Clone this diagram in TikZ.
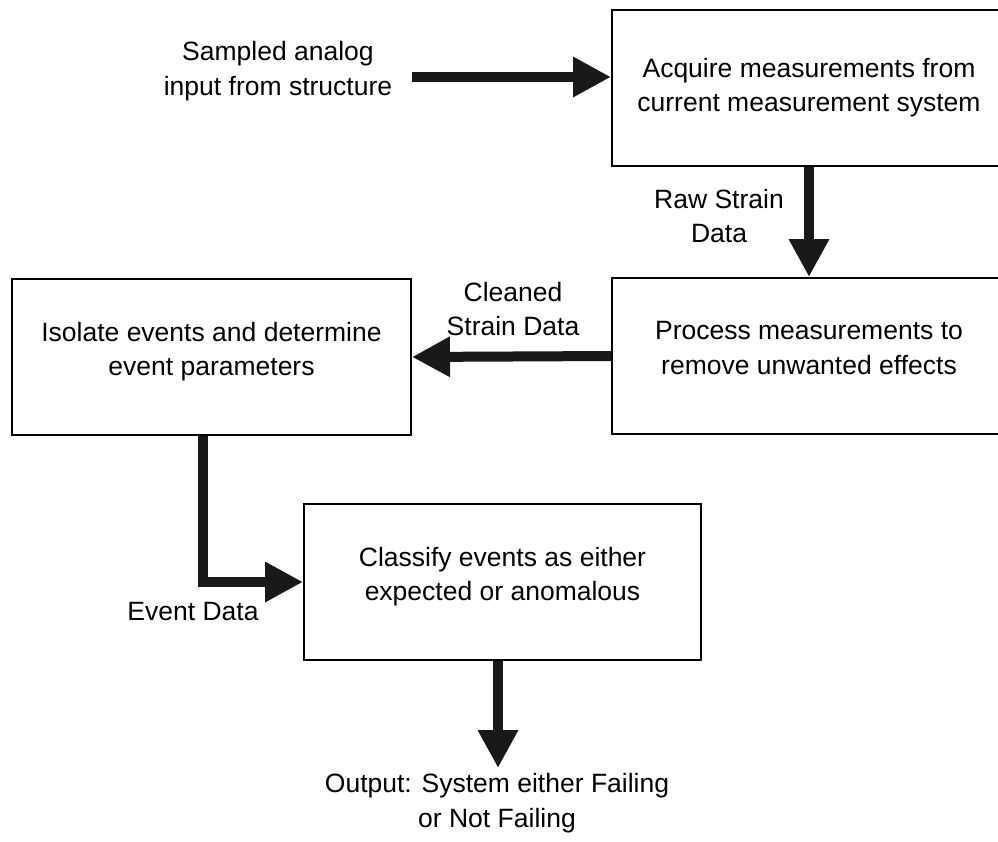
\documentclass[tikz,border=0pt]{standalone}
\usepackage{fontspec}
\setmainfont{Liberation Sans}
\usetikzlibrary{arrows.meta}
\newcommand{\lowpad}{\rule[-16pt]{0pt}{0pt}}
\begin{document}
\begin{tikzpicture}[x=1pt,y=-1pt,
  every node/.style={font=\fontsize{26.5}{34.5}\selectfont, align=center, inner sep=0pt},
  procbox/.style={draw=black, line width=2pt, minimum width=394pt, minimum height=156pt},
  flow/.style={draw=black!90, line width=10pt, line join=miter,
    -{Triangle[length=38pt,width=38pt]}}]
\clip (0,0) rectangle (998,841);
\fill[white] (0,0) rectangle (998,841);
% boxes
\node[procbox] (b1) at (809,87.5) {Acquire measurements from\\current measurement system};
\node[procbox] (b2) at (809,356) {Process measurements to\\remove unwanted effects\lowpad};
\node[procbox, minimum width=399pt] (b3) at (211.5,357) {Isolate events and determine\\event parameters\lowpad};
\node[procbox, minimum width=397pt] (b4) at (502.5,582) {Classify events as either\\expected or anomalous\lowpad};
% labels
\node (lin) at (278,71) {Sampled analog\\input from structure};
\node (lraw) at (719,216) {Raw Strain\\Data};
\node (lclean) at (513,309) {Cleaned\\Strain Data};
\node (levent) at (193,612) {Event Data};
\node (lout) at (497,803) {Output: System either Failing\\or Not Failing};
% connectors
\coordinate (cin) at (412,77);
\coordinate (cout) at (498,768);
\draw[flow] (cin) -- (cin -| b1.west);
\draw[flow] (b1.south) -- (b2.north);
\draw[flow] (b2.west) -- (b3.east);
\draw[flow] ([xshift=-8.5pt]b3.south) |- (b4.west);
\draw[flow] (b4.south -| cout) -- (cout);
\end{tikzpicture}
\end{document}
